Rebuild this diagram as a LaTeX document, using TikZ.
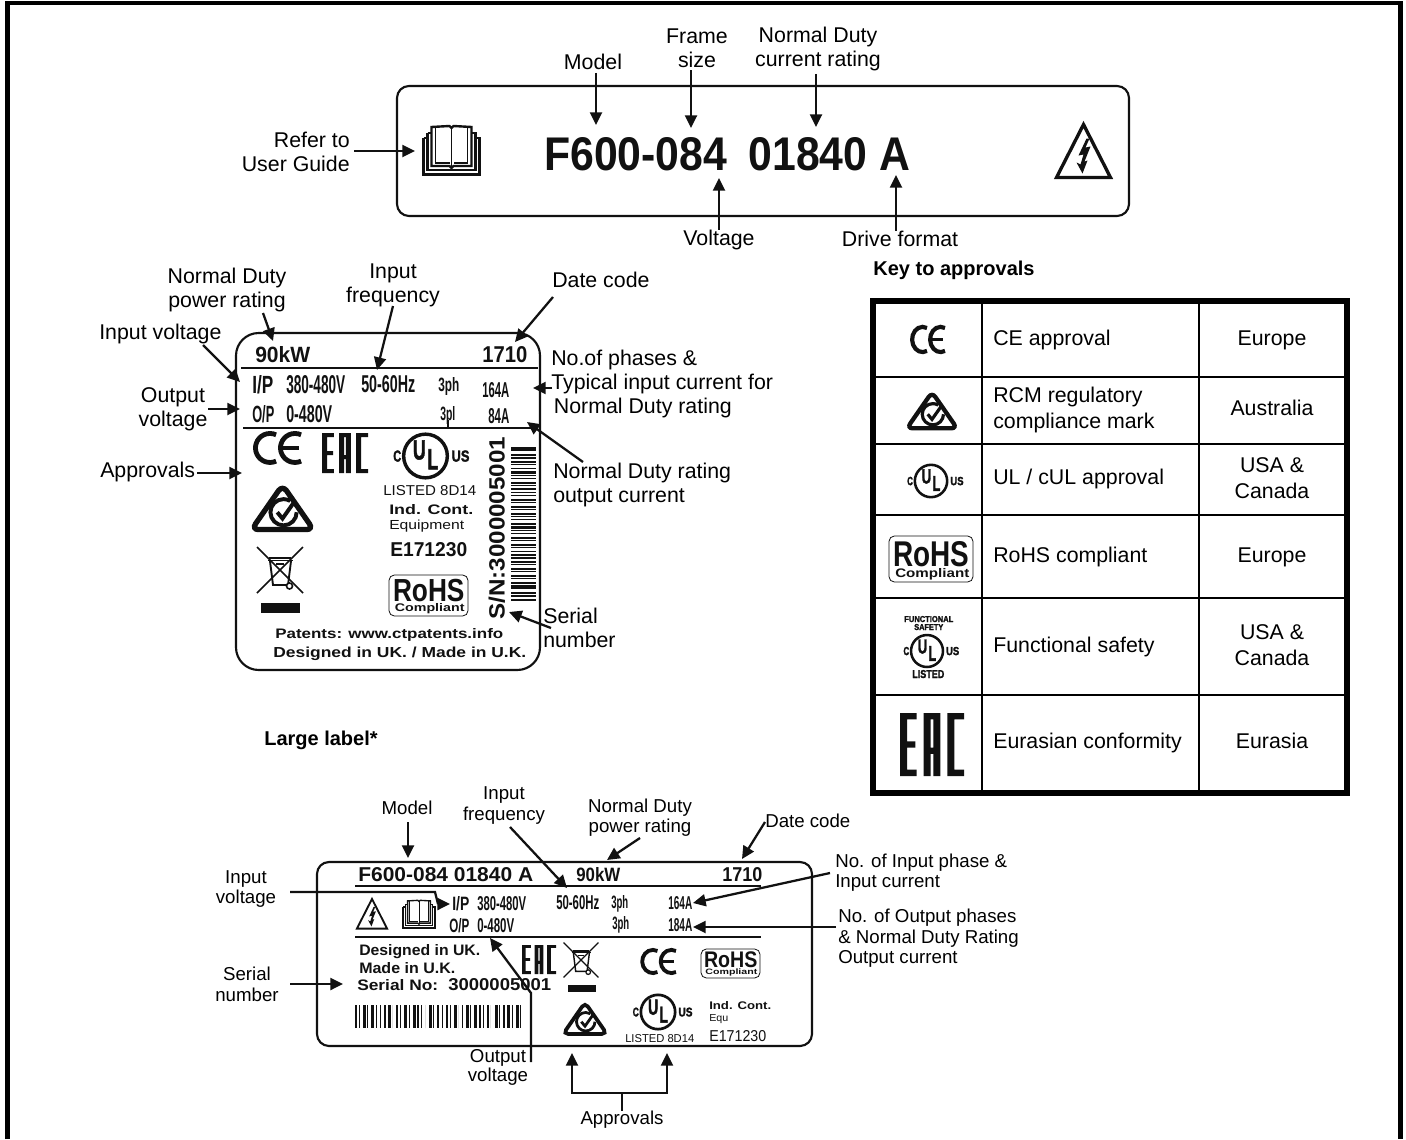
\documentclass[tikz,border=0pt]{standalone}
\usepackage{fontspec}
\usepackage{graphicx}
\setmainfont{Liberation Sans}
\newfontfamily\heavy[FakeBold=2]{Liberation Sans Bold}
\usetikzlibrary{arrows.meta}
\newdimen\pxu \pxu=0.75pt
\definecolor{ink}{HTML}{111111}
\tikzset{
  lab/.style={inner sep=0pt,align=center,text=black,yshift=-1.5pt,font=\fontsize{16}{18}\selectfont},
  labl/.style={lab,align=left,anchor=west},
  labs/.style={inner sep=0pt,align=center,text=black,yshift=-1.2pt,font=\fontsize{14}{15.4}\selectfont},
  labsl/.style={labs,align=left,anchor=west},
  arw/.style={draw=ink,line width=1.7pt,-{Triangle[length=9.5pt,width=9pt]}},
  plainln/.style={draw=ink,line width=1.7pt},
  boxln/.style={draw=ink,line width=1.6pt},
  rule/.style={draw=ink,line width=1.7pt},
  grid/.style={draw=black,line width=1.5pt},
  fit/.style={inner sep=0pt,anchor=base west,text=ink},
}
% fitted text: name, left x, baseline y, width, height, text
\newcommand\ft[6]{\node[fit] (#1) at (#2,#3) {\resizebox{#4\pxu}{#5\pxu}{#6}};}
\newcommand\CEmark[4]{\begin{scope}[shift={(#1,#2)},xscale=#3,yscale=#4]
  \draw[ink,line width=#4*3.6pt] (-1.4,13.1) arc[start angle=65,end angle=295,radius=14.5];
  \draw[ink,line width=#4*3.6pt] (23.6,13.1) arc[start angle=65,end angle=295,radius=14.5];
  \draw[ink,line width=#4*3pt] (4,0) -- (21,0);
\end{scope}}
\newcommand\EACmark[4]{\begin{scope}[shift={(#1,#2)},xscale=#3/100,yscale=#4/100]
  \fill[ink] (0,0) rectangle (11,100) (0,0) rectangle (26,10) (0,45) rectangle (24,55) (0,90) rectangle (26,100);
  \fill[ink] (37,0) rectangle (63,10) (37,0) rectangle (48,100) (52,0) rectangle (63,100) (37,55) rectangle (63,65);
  \fill[ink] (74,0) rectangle (85,100) (74,0) rectangle (100,10) (74,90) rectangle (100,100);
\end{scope}}
\newcommand\RCMmark[3]{\begin{scope}[shift={(#1,#2)},scale=#3]
  \draw[ink,line width=#3*3.8pt,rounded corners=#3*5pt] (0,-21) -- (29.5,21.5) -- (-29.5,21.5) -- cycle;
  \draw[ink,line width=#3*2.8pt] (13.5,5) arc[start angle=0,end angle=300,radius=12.5];
  \draw[ink,line width=#3*2.8pt] (-5,5) -- (0,11) -- (12,-6);
\end{scope}}
\newcommand\ULcore[3]{\begin{scope}[shift={(#1,#2)},scale=#3,transform shape]
  \draw[ink,line width=#3*2.3pt] (0,0) circle (19.5);
  \node[fit] (ulu#1) at (-11.5,3) {\resizebox{11.5\pxu}{17\pxu}{\heavy U}};
  \node[fit] (ull#1) at (1.5,12) {\resizebox{9.5\pxu}{18\pxu}{\heavy L}};
  \node[fit] (ulc#1) at (-29,5) {\resizebox{7\pxu}{10\pxu}{\heavy C}};
  \node[fit] (uls#1) at (23,5) {\resizebox{16\pxu}{10\pxu}{\heavy US}};
\end{scope}}
\newcommand\RoHSmark[4]{\begin{scope}[shift={(#1,#2)},xscale=#3/84,yscale=#4/46,transform shape]
  \draw[ink,line width=0.6pt,rounded corners=4pt] (0,0) rectangle (84,46);
  \node[fit] (ro#1) at (4,30) {\resizebox{76\pxu}{25\pxu}{\bfseries RoHS}\llap{\raisebox{-11\pxu}{\resizebox{74\pxu}{9\pxu}{\bfseries Compliant}}}};
\end{scope}}
\newcommand\WEEEmark[3]{\begin{scope}[shift={(#1,#2)},scale=#3]
  \draw[ink,line width=#3*1.2pt] (-11,-12) -- (11,-12) (-12,-9.5) -- (13,-9.5);
  \draw[ink,line width=#3*1.4pt] (-10,-9) -- (-7,15) -- (8,15) -- (11,-9);
  \draw[ink,line width=#3*1.1pt] (-23,-23) -- (23,23) (23,-23) -- (-23,23);
  \draw[ink,line width=#3*1.4pt] (-4,-6) -- (4,-6);
  \draw[ink,line width=#3*1.2pt,fill=white] (9.5,16) circle (3);
\end{scope}}
\newcommand\BOOKmark[3]{\begin{scope}[shift={(#1,#2)},scale=#3]
  \draw[ink,line width=#3*1.8pt] (-28,-12) -- (-28,24.5) -- (28,24.5) -- (28,-12) -- (24,-12);
  \draw[ink,line width=#3*1.8pt] (-28,-12) -- (-24,-12);
  \draw[ink,line width=#3*1.8pt] (-24,-17) -- (-24,20) -- (24,20) -- (24,-17) -- (20,-17);
  \draw[ink,line width=#3*1.8pt] (-24,-17) -- (-20,-17);
  \draw[ink,line width=#3*1.8pt] (-20,-23) -- (-2,-24) -- (0,-22) -- (2,-24) -- (20,-23) -- (20,16) -- (2,16) -- (0,18) -- (-2,16) -- (-20,16) -- cycle;
  \draw[ink,line width=#3*1.2pt] (0,-22) -- (0,18);
  \draw[ink,line width=#3*1.2pt] (-16,-23) -- (-16,13) -- (-2,13);
  \draw[ink,line width=#3*1.2pt] (16,-23) -- (16,13) -- (2,13);
\end{scope}}
\newcommand\WARNmark[3]{\begin{scope}[shift={(#1,#2)},scale=#3]
  \draw[ink,line width=#3*2.5pt,line join=miter] (0,-26) -- (27,27) -- (-27,27) -- cycle;
  \fill[ink] (3,-12) -- (-5,5) -- (0,4) -- (-3,14) -- (-7,12) -- (-1,23) -- (4,10) -- (1,11) -- (7,-4) -- (2,-3) -- (6,-12) -- cycle;
\end{scope}}
\begin{document}
\begin{tikzpicture}[x=0.75pt,y=-0.75pt]
\useasboundingbox (0,0) rectangle (1406,1139);
\fill[white] (0,0) rectangle (1406,1139);
% page frame
\draw[black,line width=3.6pt] (7.5,1139) -- (7.5,3) -- (1400.5,3) -- (1400.5,1139);

% ---------- top rating label ----------
\draw[boxln,rounded corners=9pt] (397,86) rectangle (1129,216);
\ft{ratingcode}{544}{170}{366}{33}{\bfseries F600-084\hspace{0.5em}01840 A}
\BOOKmark{451.5}{150}{1}
\WARNmark{1083.5}{150.5}{1}
\node[lab] (tmodel) at (593,60) {Model};
\node[lab] (tframe) at (697,46) {Frame\\size};
\node[lab] (tnd) at (818,47) {Normal Duty\\current rating};
\node[lab,align=right,anchor=east] (tref) at (350,150) {Refer to\\User Guide};
\node[lab] (tvolt) at (719,238) {Voltage};
\node[lab] (tfmt) at (900,237) {Drive format};
\coordinate (tipmodel) at (596,125);
\coordinate (tipframe) at (691,128);
\coordinate (tipnd) at (816,127);
\coordinate (tipbook) at (415,151);
\coordinate (tipvolt) at (719,178);
\coordinate (tipfmt) at (896,175);
\draw[arw] ([yshift=-2pt]tmodel.south -| tipmodel) -- (tipmodel);
\draw[arw] ([yshift=-2pt]tframe.south -| tipframe) -- (tipframe);
\draw[arw] ([yshift=-2pt]tnd.south -| tipnd) -- (tipnd);
\draw[arw] ([xshift=3pt]tref.east |- tipbook) -- (tipbook);
\draw[arw] (tvolt.north -| tipvolt) -- (tipvolt);
\draw[arw] (tfmt.north -| tipfmt) -- (tipfmt);

% ---------- key to approvals ----------
\node[lab,font=\fontsize{15}{18}\bfseries] (keyt) at (954,268) {Key to approvals};
\draw[black,line width=3.8pt] (873,301) rectangle (1347,793);
\draw[grid] (982,301) -- (982,793) (1199,301) -- (1199,793);
\draw[grid] (873,377) -- (1347,377) (873,444) -- (1347,444) (873,515) -- (1347,515) (873,598) -- (1347,598) (873,695) -- (1347,695);
\CEmark{928}{339.5}{0.72}{0.87}
\RCMmark{932}{410}{0.85}
\ULcore{931}{481}{0.83}
\RoHSmark{889}{536}{84}{46}
\ULcore{927}{651}{0.82}
\EACmark{900}{713}{64}{63}
\ft{fs1}{904}{622}{49}{6}{\heavy FUNCTIONAL}
\ft{fs2}{914}{630}{29}{6}{\heavy SAFETY}
\ft{fs3}{912}{678}{32}{8}{\heavy LISTED}
\node[labl] (k1a) at (993,338) {CE approval};
\node[labl] (k2a) at (993,408) {RCM regulatory\\[2pt]compliance mark};
\node[labl] (k3a) at (993,477) {UL / cUL approval};
\node[labl] (k4a) at (993,555) {RoHS compliant};
\node[labl] (k5a) at (993,645) {Functional safety};
\node[labl] (k6a) at (993,741) {Eurasian conformity};
\node[lab] (k1b) at (1272,338) {Europe};
\node[lab] (k2b) at (1272,406) {Australia};
\node[lab] (k3b) at (1272,476) {USA \&\\[2pt]Canada};
\node[lab] (k4b) at (1272,555) {Europe};
\node[lab] (k5b) at (1272,643) {USA \&\\[2pt]Canada};
\node[lab] (k6b) at (1272,739) {Eurasia};

% ---------- small label ----------
\draw[boxln,rounded corners=17pt] (236,333) rectangle (540,670);
\draw[rule] (241,368) -- (538,368) (243,428) -- (538,428);
\draw[ink,line width=0.8pt] (448,420) -- (448,428);
\ft{s90}{255}{362}{55}{16}{\bfseries 90kW}
\ft{s1710}{482}{362}{45}{16}{\bfseries 1710}
\ft{sip}{252}{393}{21}{18}{\bfseries I/P}
\ft{sv1}{286}{393}{59}{18}{\bfseries 380-480V}
\ft{shz}{361}{392}{54}{17}{\bfseries 50-60Hz}
\ft{sph1}{438}{391}{21}{14}{\bfseries 3ph}
\ft{si1}{482}{397}{27}{15}{\bfseries 164A}
\ft{sop}{252}{422}{22}{17}{\bfseries O/P}
\ft{sv2}{286}{422}{46}{17}{\bfseries 0-480V}
\ft{sph2}{440}{420}{15}{14}{\bfseries 3pl}
\ft{si2}{488}{423}{21}{15}{\bfseries 84A}
\CEmark{277.5}{448}{1}{1}
\EACmark{322}{433}{46}{40}
\ULcore{425.5}{456}{1.12}
\RCMmark{282.5}{507}{1.05}
\WEEEmark{280}{570}{1}
\fill[ink] (261,603) rectangle (300,613);
\ft{sul}{383}{495}{93}{10}{LISTED 8D14}
\ft{sind}{389}{514}{84}{10}{\bfseries Ind. Cont.}
\ft{seq}{389}{529.5}{75}{9.5}{Equipment}
\ft{se}{390}{556}{77}{14}{\bfseries E171230}
\RoHSmark{389}{575}{79}{41}
\node[inner sep=0pt,rotate=90,anchor=base west,text=ink] (ssn) at (504.5,620) {\resizebox{183\pxu}{16\pxu}{\bfseries S/N:3000005001}};
\foreach \t [count=\i from 0] in {2.5,1,2,1.2,2.5,1,1,2.5,1.2,1,2.5,1,2,1,1,2.5,1,2,1.2,2.5,1,1,2,2.5,1,1.2,2,1,2.5,1,1,2,1.2,2.5,1,2,1,2.5,1,2,2.5,1,2,1.2,2.5}
  \fill[ink] (511,{447+\i*3.45}) rectangle ++(25,\t);
\ft{spat}{275}{638}{228}{10}{\bfseries Patents: www.ctpatents.info}
\ft{sdes}{273}{657}{253}{10.5}{\bfseries Designed in UK. / Made in U.K.}

\node[lab] (snd) at (227,288) {Normal Duty\\power rating};
\node[lab] (sfq) at (393,283) {Input\\frequency};
\node[labl] (sdc) at (552,278) {Date code};
\node[labl] (siv) at (99,332) {Input voltage};
\node[lab] (sov) at (173,407.5) {Output\\voltage};
\node[labl] (sap) at (100,470) {Approvals};
\node[labl] (sphn) at (551,382) {No.of phases \&\\Typical input current for\\\hspace{2pt}Normal Duty rating};
\node[labl] (sndo) at (553,483) {Normal Duty rating\\output current};
\node[labl] (ssr) at (543,626) {Serial\\number};
\coordinate (a1s) at (263,313); \coordinate (a1t) at (273,341);
\coordinate (a2s) at (393,306); \coordinate (a2t) at (377,370);
\coordinate (a3s) at (553,297); \coordinate (a3t) at (515,342);
\coordinate (a4s) at (203,345); \coordinate (a4t) at (240,382);
\coordinate (a5s) at (208,409); \coordinate (a5t) at (240,409);
\coordinate (a6s) at (197,473); \coordinate (a6t) at (242,473);
\coordinate (a7s) at (552,388); \coordinate (a7t) at (533,388);
\coordinate (a8s) at (583,462); \coordinate (a8t) at (527,422);
\coordinate (a9s) at (551,628); \coordinate (a9t) at (509,612);
\foreach \k in {1,...,9} \draw[arw] (a\k s) -- (a\k t);

% ---------- large label ----------
\node[lab,font=\fontsize{15}{18}\bfseries] (llt) at (321,738) {Large label*};
\draw[boxln,rounded corners=9pt] (317,862) rectangle (812,1046);
\draw[rule] (355,886) -- (761,886) (355,937) -- (761,937);
\ft{lcode}{358}{881}{175}{14}{\bfseries F600-084 01840 A}
\ft{l90}{576}{881}{44}{14}{\bfseries 90kW}
\ft{l1710}{722}{881}{40}{14}{\bfseries 1710}
\WARNmark{372}{913.5}{0.56}
\BOOKmark{419}{914}{0.57}
\ft{lip}{452}{910}{17}{14}{\bfseries I/P}
\ft{lv1}{477}{910}{49}{14}{\bfseries 380-480V}
\ft{lhz}{556}{909}{43}{14}{\bfseries 50-60Hz}
\ft{lph1}{611}{908}{17}{13}{\bfseries 3ph}
\ft{li1}{668}{909}{24}{13}{\bfseries 164A}
\ft{lop}{449}{932}{20}{14}{\bfseries O/P}
\ft{lv2}{477}{932}{37}{14}{\bfseries 0-480V}
\ft{lph2}{612}{929}{17}{13}{\bfseries 3ph}
\ft{li2}{668}{931}{24}{13}{\bfseries 184A}
\ft{ld1}{359}{955}{121}{11}{\bfseries Designed in UK.}
\ft{ld2}{359}{973}{96}{11}{\bfseries Made in U.K.}
\ft{ld3}{357}{990}{81}{11}{\bfseries Serial No:}
\ft{ld4}{448}{990}{103}{12}{\bfseries 3000005001}
\EACmark{522}{945}{34}{29}
\WEEEmark{581}{960}{0.76}
\fill[ink] (568,985) rectangle (596,992);
\CEmark{658.5}{961.5}{0.74}{0.8}
\RoHSmark{701}{949}{59}{29}
\RCMmark{585}{1018}{0.74}
\ULcore{658}{1012}{0.88}
\ft{lul}{625}{1042}{69}{8}{LISTED 8D14}
\ft{lin}{709}{1009}{62}{8}{\bfseries Ind. Cont.}
\ft{leq}{709}{1021}{19}{7}{Equ}
\ft{lem}{709}{1041}{57}{11}{E171230}
\foreach \t [count=\i from 0] in {2,1,2.5,1,3,1,1,2,3,0,2,1,2.5,1,3,2,1,0,3,1,2,1,2.5,1,3,0,1,2.5,1,3,2,1,2,0,3,1,2,2.5,1,3,1}
  \fill[ink] ({355+\i*4.12},1005) rectangle ++(\t,23);

\node[labs] (lmod) at (407,806) {Model};
\node[labs] (lfq) at (504,804) {Input\\frequency};
\node[labs] (lnd) at (640,816) {Normal Duty\\power rating};
\node[labsl] (ldc) at (765,819) {Date code};
\node[labs] (liv) at (246,887.5) {Input\\voltage};
\node[labs] (lsr) at (247,982.5) {Serial\\number};
\node[labsl] (lni) at (835,871) {No. of Input phase \&\\Input current};
\node[labsl] (lno) at (838,937) {No. of Output phases\\\& Normal Duty Rating\\Output current};
\node[labs,font=\fontsize{14}{12}\selectfont] (lov) at (498,1066) {Output\\voltage};
\node[labs] (lap) at (622,1118) {Approvals};
\coordinate (b1s) at (408,822); \coordinate (b1t) at (408,858);
\coordinate (b2s) at (510,827); \coordinate (b2t) at (567,888);
\coordinate (b3s) at (640,838); \coordinate (b3t) at (607,860);
\coordinate (b4s) at (765,822); \coordinate (b4t) at (742,859);
\coordinate (b5s) at (290,984); \coordinate (b5t) at (343,984);
\coordinate (b6s) at (830,873); \coordinate (b6t) at (693,903);
\coordinate (b7s) at (836,927); \coordinate (b7t) at (693,927);
\foreach \k in {1,...,7} \draw[arw] (b\k s) -- (b\k t);
\coordinate (c1s) at (290,892); \coordinate (c1m) at (435,892); \coordinate (c1n) at (438,904); \coordinate (c1t) at (450,904);
\draw[arw] (c1s) -- (c1m) -- (c1n) -- (c1t);
\coordinate (c2s) at (531,1062); \coordinate (c2m) at (531,993); \coordinate (c2t) at (490,938);
\draw[arw] (c2s) -- (c2m) -- (c2t);
\coordinate (c3t) at (572,1053); \coordinate (c4t) at (667,1053);
\coordinate (c3b) at (572,1093); \coordinate (c4b) at (667,1093);
\draw[plainln] (lap.north) -- (lap.north |- c3b);
\draw[arw] (lap.north |- c3b) -- (c3b) -- (c3t);
\draw[arw] (lap.north |- c4b) -- (c4b) -- (c4t);
\end{tikzpicture}
\end{document}
